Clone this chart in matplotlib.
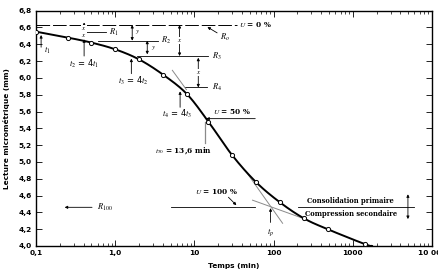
import numpy as np
import matplotlib
matplotlib.use("Agg")
import matplotlib.pyplot as plt
from matplotlib.ticker import FixedLocator, FixedFormatter, LogLocator, NullFormatter

# lectures du micrometre en fonction du temps
temps = [0.1, 0.25, 0.5, 1, 2, 4, 8, 15, 30, 60, 120, 240, 480, 1440]
lecture = [6.55, 6.48, 6.42, 6.34, 6.22, 6.04, 5.81, 5.48, 5.08, 4.76, 4.52, 4.33, 4.20, 4.02]
fin_courbe_t = [1750]
fin_courbe_v = [4.0]

x_ticks = [0.1, 1, 10, 100, 1000, 10000]
x_labels = ["0,1", "1,0", "10", "100", "1000", "10 000"]
y_ticks = [4.0, 4.2, 4.4, 4.6, 4.8, 5.0, 5.2, 5.4, 5.6, 5.8, 6.0, 6.2, 6.4, 6.6, 6.8]

R0 = 6.63
R100 = 4.46
R50 = 5.515
t50 = 13.6
tp = 91.6

plt.rcParams["mathtext.fontset"] = "stix"
plt.rcParams["font.family"] = "DejaVu Sans"


def smooth(xs, ys, n=20):
    # catmull-rom dans l'espace (log t, v)
    lx = np.log10(xs)
    ys = np.asarray(ys, float)
    px = np.concatenate([[2 * lx[0] - lx[1]], lx, [2 * lx[-1] - lx[-2]]])
    py = np.concatenate([[2 * ys[0] - ys[1]], ys, [2 * ys[-1] - ys[-2]]])
    ox, oy = [], []
    s = np.linspace(0, 1, n, endpoint=False)
    for i in range(1, len(px) - 2):
        for arr, out in ((px, ox), (py, oy)):
            p0, p1, p2, p3 = arr[i - 1], arr[i], arr[i + 1], arr[i + 2]
            out.extend(0.5 * (2 * p1 + (-p0 + p2) * s + (2 * p0 - 5 * p1 + 4 * p2 - p3) * s ** 2
                              + (-p0 + 3 * p1 - 3 * p2 + p3) * s ** 3))
    ox.append(lx[-1])
    oy.append(ys[-1])
    return 10 ** np.array(ox), np.array(oy)


fig = plt.figure(figsize=(4.39, 2.73), dpi=100)
ax = fig.add_axes([0.082, 0.099, 0.902, 0.862])

cx, cy = smooth(temps + fin_courbe_t, lecture + fin_courbe_v)
ax.plot(cx, cy, color="black", lw=1.4, zorder=3)
ax.plot(temps, lecture, "o", ms=3, mfc="white", mec="black", mew=0.7, zorder=4)

ax.set_xscale("log")
ax.set_xlim(0.1, 10000)
ax.set_ylim(4.0, 6.8)
ax.xaxis.set_major_locator(FixedLocator(x_ticks))
ax.xaxis.set_major_formatter(FixedFormatter(x_labels))
ax.xaxis.set_minor_locator(LogLocator(base=10, subs=np.arange(2, 10)))
ax.xaxis.set_minor_formatter(NullFormatter())
ax.set_yticks(y_ticks)
ax.set_yticklabels([("%.1f" % v).replace(".", ",") for v in y_ticks])
ax.tick_params(which="both", direction="in", top=True, right=True, labelsize=5.3, pad=3)
ax.tick_params(which="major", length=4, width=0.6)
ax.tick_params(which="minor", length=2, width=0.5)
for lab in ax.get_xticklabels() + ax.get_yticklabels():
    lab.set_fontweight("bold")
for sp in ax.spines.values():
    sp.set_linewidth(1.0)

ax.set_xlabel("Temps (min)", fontsize=5.3, fontweight="bold", labelpad=5)
ax.set_ylabel("Lecture micrométrique (mm)", fontsize=5.3, fontweight="bold", labelpad=6)

fs = 6
fb = 5.3
thin = dict(arrowstyle="-|>", lw=0.6, color="black", mutation_scale=4, shrinkA=0, shrinkB=0)
both = dict(arrowstyle="<|-|>", lw=0.6, color="black", mutation_scale=4, shrinkA=0, shrinkB=0)
gris = "#8a8a8a"
blanc = dict(fc="white", ec="none", pad=0.1)

# ligne U = 0 %
ax.plot([0.1, 35], [R0, R0], color="black", lw=0.7, dashes=(14, 3))
ax.text(36.5, R0, r"$U$ = 0 %", fontsize=fb, va="center", ha="left", fontweight="bold", family="serif")
ax.annotate(r"$R_o$", xy=(14.6, 6.605), xytext=(21, 6.48), fontsize=fs, va="center",
            arrowprops=thin)

# construction R1..R4
ax.plot([0.417, 0.77], [6.545, 6.545], color="black", lw=0.6)
ax.text(0.84, 6.545, r"$R_1$", fontsize=fs, va="center")
ax.annotate("", xy=(0.405, R0 + 0.03), xytext=(0.405, 6.545), arrowprops=both)
ax.text(0.405, 6.59, r"$x$", fontsize=5, ha="center", va="center", bbox=blanc)
ax.annotate("", xy=(0.405, 6.545), xytext=(0.405, 6.47), arrowprops=both)
ax.text(0.405, 6.507, r"$x$", fontsize=5, ha="center", va="center", bbox=blanc)

ax.plot([0.61, 3.48], [6.443, 6.443], color="black", lw=0.6)
ax.text(3.8, 6.443, r"$R_2$", fontsize=fs, va="center")
ax.annotate("", xy=(1.64, R0), xytext=(1.64, 6.443), arrowprops=both)
ax.text(1.8, 6.54, r"$y$", fontsize=5, ha="left", va="center")
ax.annotate("", xy=(2.54, 6.443), xytext=(2.54, 6.28), arrowprops=both)
ax.text(2.8, 6.36, r"$y$", fontsize=5, ha="left", va="center")

ax.plot([1.9, 15.0], [6.26, 6.26], color="black", lw=0.6)
ax.text(16.9, 6.26, r"$R_3$", fontsize=fs, va="center")
ax.annotate("", xy=(6.5, R0), xytext=(6.5, 6.26), arrowprops=both)
ax.text(6.5, 6.445, r"$x$", fontsize=5, ha="center", va="center", bbox=blanc)

ax.plot([7.7, 14.6], [5.886, 5.886], color="black", lw=0.6)
ax.text(16.9, 5.886, r"$R_4$", fontsize=fs, va="center")
ax.annotate("", xy=(11.2, 6.24), xytext=(11.2, 5.886), arrowprops=both)
ax.text(11.2, 6.06, r"$x$", fontsize=5, ha="center", va="center", bbox=blanc)
ax.plot([5.27, 7.93], [6.09, 5.86], color=gris, lw=0.7)

# temps t1..t4
ax.annotate("", xy=(0.116, 6.51), xytext=(0.116, 6.365), arrowprops=thin)
ax.text(0.128, 6.33, r"$t_1$", fontsize=fs, ha="left", va="center")
ax.annotate("", xy=(0.405, 6.46), xytext=(0.405, 6.26), arrowprops=thin)
ax.text(0.405, 6.17, r"$t_2$ = 4$t_1$", fontsize=fs, ha="center", va="center")
ax.annotate("", xy=(1.6, 6.23), xytext=(1.6, 6.05), arrowprops=thin)
ax.text(1.69, 5.97, r"$t_3$ = 4$t_2$", fontsize=fs, ha="center", va="center")
ax.annotate("", xy=(6.6, 5.84), xytext=(6.6, 5.65), arrowprops=thin)
ax.text(6.1, 5.575, r"$t_4$ = 4$t_3$", fontsize=fs, ha="center", va="center")

# U = 50 %
ax.annotate("", xy=(14.1, R50), xytext=(58.7, R50), arrowprops=thin)
ax.text(17.4, 5.6, r"$U$ = 50 %", fontsize=fb, ha="left", va="center", fontweight="bold", family="serif")
ax.plot([t50, t50], [5.48, 5.22], color=gris, lw=0.9)
ax.text(7.36, 5.13, r"$t_{50}$ = 13,6 min", fontsize=fb, ha="center", va="center",
        fontweight="bold", family="serif")

# R100 et U = 100 %
ax.annotate("", xy=(0.23, R100), xytext=(0.51, R100), arrowprops=thin)
ax.text(0.59, R100, r"$R_{100}$", fontsize=fs, ha="left", va="center")
ax.plot([5.1, 58.7], [R100, R100], color="black", lw=0.6)
ax.text(10.3, 4.65, r"$U$ = 100 %", fontsize=fb, ha="left", va="center", fontweight="bold", family="serif")
ax.annotate("", xy=(33.9, 4.485), xytext=(26.9, 4.58), arrowprops=thin)

# tangentes et tp
ax.plot([44.3, 130], [4.892, 4.27], color=gris, lw=0.7)
ax.plot([54.2, 233], [4.545, 4.33], color=gris, lw=0.7)
ax.annotate("", xy=(tp, 4.45), xytext=(tp, 4.28), arrowprops=thin)
ax.text(tp, 4.16, r"$t_p$", fontsize=fs, ha="center", va="center")

# consolidation primaire / compression secondaire
ax.plot([201, 5920], [R100, R100], color="black", lw=0.6)
ax.text(944, 4.53, "Consolidation primaire", fontsize=4.9, ha="center", va="center",
        fontweight="bold", family="serif")
ax.text(944, 4.385, "Compression secondaire", fontsize=4.9, ha="center", va="center",
        fontweight="bold", family="serif")
ax.annotate("", xy=(4970, 4.615), xytext=(4970, 4.32), arrowprops=both)

fig.savefig("out.png", dpi=100, facecolor="white")
